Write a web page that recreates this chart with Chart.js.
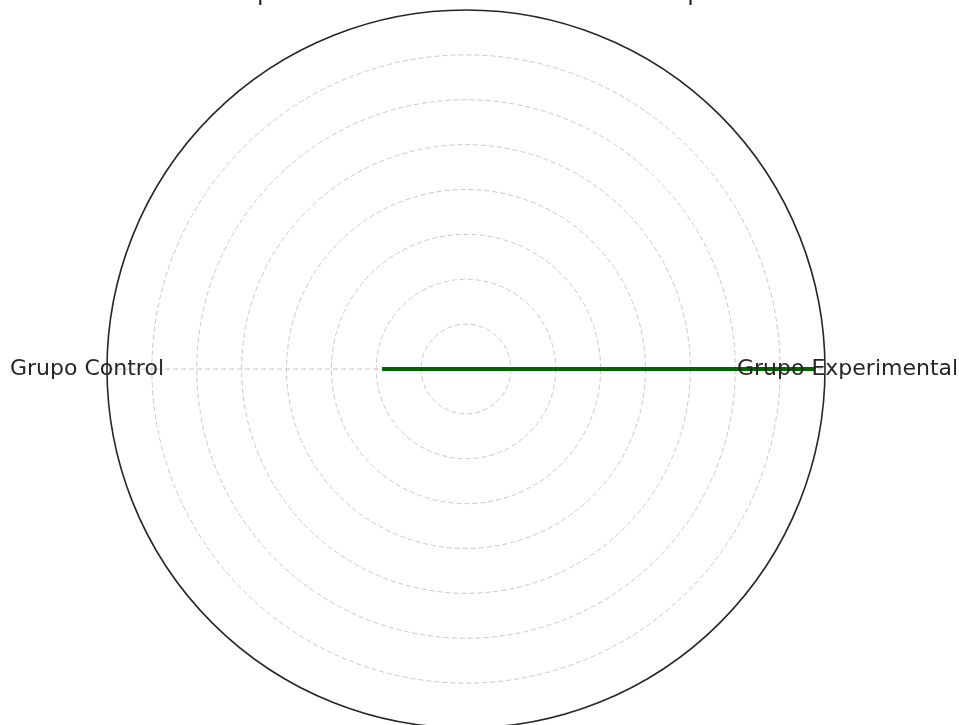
<!DOCTYPE html>
<html>
<head>
<meta charset="utf-8">
<script src="https://cdn.jsdelivr.net/npm/chart.js@4.4.1/dist/chart.umd.min.js"></script>
<style>
  html, body { margin: 0; padding: 0; background: #ffffff; overflow: hidden; }
  #wrap { width: 959px; height: 760px; margin-top: -21px; }
</style>
</head>
<body>
<div id="wrap"><canvas id="radar" width="959" height="760"></canvas></div>
<script>
const categories = ['Grupo Control', 'Grupo Experimental']
const groupValues = [1.87, 7.78]
const radialTicks = [0, 1, 2, 3, 4, 5, 6, 7, 8]

const chartTitle = 'Comparación del Rendimiento entre Grupos'

// axis labels drawn on top of the line, like the original
const axisLabels = {
  id: 'axisLabels',
  afterDatasetsDraw(chart) {
    const scale = chart.scales.r
    const ctx = chart.ctx
    ctx.save()
    ctx.font = '22px "DejaVu Sans"'
    ctx.fillStyle = '#262626'
    ctx.textBaseline = 'middle'
    // left label sits just inside the outer ring, right label further in
    const left = scale.getPointPosition(0, 302)
    ctx.textAlign = 'right'
    ctx.fillText(categories[0], left.x, left.y)
    const right = scale.getPointPosition(1, 271)
    ctx.textAlign = 'left'
    ctx.fillText(categories[1], right.x, right.y)
    ctx.restore()
  }
}

const ctx = document.getElementById('radar').getContext('2d')
const chart = new Chart(ctx, {
  type: 'radar',
  data: {
    labels: categories,
    datasets: [{
      label: 'Resultados',
      data: groupValues,
      borderColor: '#006400',
      backgroundColor: 'rgba(0,0,0,0)',
      borderWidth: 4,
      pointRadius: 0,
      fill: false
    }]
  },
  options: {
    responsive: false,
    animation: false,
    layout: {
      padding: { left: 106, right: 133, top: 0, bottom: 9.8 }
    },
    plugins: {
      legend: { display: false },
      tooltip: { enabled: false },
      title: {
        display: true,
        text: chartTitle,
        color: '#262626',
        font: { family: 'DejaVu Sans', size: 24, weight: 'normal' },
        padding: { top: 0, bottom: 2.2 }
      }
    },
    scales: {
      r: {
        min: radialTicks[0],
        max: radialTicks[radialTicks.length - 1],
        startAngle: -90,
        afterBuildTicks: (scale) => {
          scale.ticks = radialTicks.map(v => ({ value: v }))
        },
        ticks: { display: false },
        pointLabels: { display: false },
        angleLines: {
          display: true,
          color: '#c8c8c8',
          lineWidth: 1,
          borderDash: [5, 3]
        },
        grid: {
          circular: true,
          color: (c) => c.index === radialTicks.length - 1 ? '#262626' : '#c8c8c8',
          lineWidth: (c) => c.index === radialTicks.length - 1 ? 1.6 : 1
        },
        border: {
          dash: (c) => c.index === radialTicks.length - 1 ? [] : [5, 3]
        }
      }
    }
  },
  plugins: [axisLabels]
})
</script>
</body>
</html>
